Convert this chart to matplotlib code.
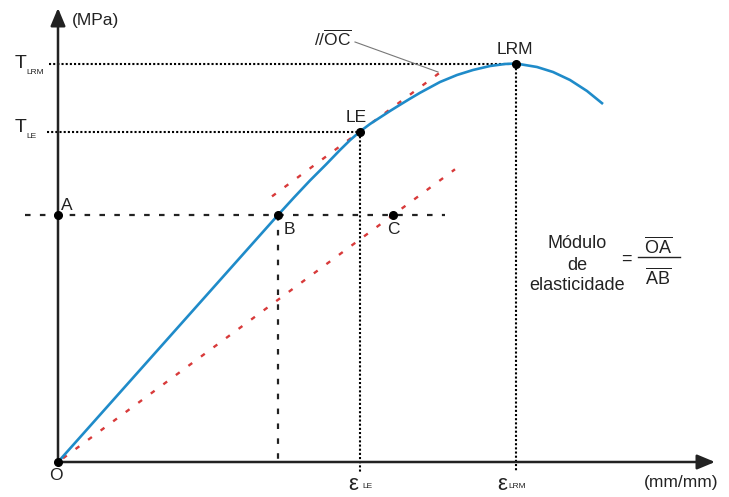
import matplotlib.pyplot as plt

plt.rcParams['font.family'] = ['Liberation Sans', 'DejaVu Sans']
plt.rcParams['mathtext.fontset'] = 'custom'
plt.rcParams['mathtext.rm'] = 'Liberation Sans'

# stress-strain curve (arbitrary units)
strain = [0, 220, 236, 252, 268, 282, 292, 302, 312, 322, 332, 342, 352, 362,
          382, 399, 415, 432, 447, 458, 479, 495, 512, 529, 545]
stress = [0, 247, 264.5, 281.5, 297.5, 312, 321.8, 330.5, 338, 344.5, 351, 357.2,
          363.3, 369.2, 380, 387, 392, 396, 398, 398.5, 395, 390, 382, 371, 358]

# named points of the diagram
point_names = ['O', 'A', 'B', 'C', 'LE', 'LRM']
point_x = [0, 0, 220, 335, 302, 458]
point_y = [0, 247, 247, 247, 330.5, 398.5]

# extent of the red lines: O-C and its parallel through LE
oc_x = [5, 397]
le_par_x = [214, 382]

BLUE = '#1f8bc9'
RED = '#d83a3a'
INK = '#222222'

pts = dict(zip(point_names, zip(point_x, point_y)))
ox, oy = pts['O']
ax_, ay_ = pts['A']
bx, by = pts['B']
cx, cy = pts['C']
lex, ley = pts['LE']
rx, ry = pts['LRM']
slope = (cy - oy) / (cx - ox)

fig = plt.figure(figsize=(7.29, 4.97), dpi=100)
ax = fig.add_axes([0, 0, 1, 1])
ax.set_xlim(-58, 671)
ax.set_ylim(-35, 462)
ax.axis('off')

# axes with arrow heads
arrow = dict(arrowstyle='-|>,head_length=0.6,head_width=0.25', lw=1.8, color=INK,
             mutation_scale=18, shrinkA=0, shrinkB=0)
ax.annotate('', xy=(0, 454), xytext=(0, -1), arrowprops=arrow)
ax.annotate('', xy=(657, 0), xytext=(-1, 0), arrowprops=arrow)

# guide lines
dots = (0, (1, 1))
ax.plot([-9, rx], [ry, ry], color='black', lw=1.5, ls=dots)
ax.plot([-11, lex], [ley, ley], color='black', lw=1.5, ls=dots)
ax.plot([lex, lex], [ley, -10], color='black', lw=1.5, ls=dots)
ax.plot([rx, rx], [ry, -10], color='black', lw=1.5, ls=dots)
ax.plot([-33, 387], [ay_, ay_], color=INK, lw=1.6, ls=(0, (2.5, 4.2)))
ax.plot([bx, bx], [by, 0], color=INK, lw=1.6, ls=(0, (2.5, 4.2)))

# red lines parallel to OC
ax.plot(oc_x, [oy + slope * (x - ox) for x in oc_x], color=RED, lw=1.7, ls=(0, (2, 4.6)))
ax.plot(le_par_x, [ley + slope * (x - lex) for x in le_par_x], color=RED, lw=1.7,
        ls=(0, (2, 4.6)))

# curve
ax.plot(strain, stress, color=BLUE, lw=1.9, solid_capstyle='butt', zorder=4)
ax.plot(point_x, point_y, 'o', color='black', ms=5.5, zorder=5)

# labels
fs = 12.5
ax.text(14, 442, '(MPa)', fontsize=fs, color=INK, va='center', ha='left')
ax.text(-37, 398, 'T', fontsize=14, color=INK, va='center', ha='center')
ax.text(-23, 390, 'LRM', fontsize=6, color=INK, va='center', ha='center')
ax.text(-37, 335, 'T', fontsize=14, color=INK, va='center', ha='center')
ax.text(-27, 326, 'LE', fontsize=6, color=INK, va='center', ha='center')
ax.text(9, 256, 'A', fontsize=fs, color=INK, va='center', ha='center')
ax.text(231, 232, 'B', fontsize=fs, color=INK, va='center', ha='center')
ax.text(335, 232, 'C', fontsize=fs, color=INK, va='center', ha='center')
ax.text(298, 344, 'LE', fontsize=fs, color=INK, va='center', ha='center')
ax.text(457, 412, 'LRM', fontsize=fs, color=INK, va='center', ha='center')
ax.text(-2, -13, 'O', fontsize=fs, color=INK, va='center', ha='center')
ax.text(275, 416, r'//$\overline{\mathrm{OC}}$', fontsize=fs, color=INK, va='baseline',
        ha='center')
ax.plot([297, 380], [420, 390], color='#777777', lw=0.8)

ax.text(295, -22, 'ε', fontsize=16, color=INK, va='center', ha='center')
ax.text(309, -25, 'LE', fontsize=6, color=INK, va='center', ha='center')
ax.text(444, -22, 'ε', fontsize=16, color=INK, va='center', ha='center')
ax.text(459, -25, 'LRM', fontsize=6, color=INK, va='center', ha='center')
ax.text(623, -21, '(mm/mm)', fontsize=fs, color=INK, va='center', ha='center')

# modulus formula
ax.text(519, 219, 'Módulo', fontsize=13, color=INK, va='center', ha='center')
ax.text(519, 197, 'de', fontsize=13, color=INK, va='center', ha='center')
ax.text(519, 177, 'elasticidade', fontsize=13, color=INK, va='center', ha='center')
ax.text(568, 203, '=', fontsize=13, color=INK, va='center', ha='center')
ax.text(600, 209, r'$\overline{\mathrm{OA}}$', fontsize=13, color=INK, va='baseline',
        ha='center')
ax.plot([580, 622], [205, 205], color=INK, lw=1.0)
ax.text(600, 178, r'$\overline{\mathrm{AB}}$', fontsize=13, color=INK, va='baseline',
        ha='center')

fig.savefig('out.png', dpi=100)
